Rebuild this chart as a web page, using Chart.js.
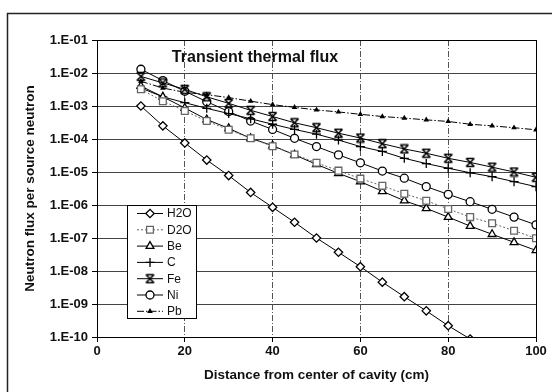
<!DOCTYPE html>
<html>
<head>
<meta charset="utf-8">
<script src="https://cdn.jsdelivr.net/npm/chart.js@4.4.0/dist/chart.umd.min.js"></script>
<style>
  html, body { margin: 0; padding: 0; background: #fff; }
  #wrap { width: 552px; height: 392px; position: relative; }
</style>
</head>
<body>
<div id="wrap"><canvas id="c" width="552" height="392"></canvas></div>
<script>
// Distance from the cavity centre (cm)
const distances = [10, 15, 20, 25, 30, 35, 40, 45, 50, 55, 60, 65, 70, 75, 80, 85, 90, 95, 100];

// Neutron flux per source neutron, by moderator / reflector material
const fluxH2O = [1.0e-3, 2.5e-4, 7.6e-5, 2.3e-5, 7.8e-6, 2.4e-6, 8.5e-7, 3.0e-7, 1.0e-7, 3.7e-8,
                 1.35e-8, 4.6e-9, 1.66e-9, 6.2e-10, 2.2e-10, 8.7e-11];
const fluxD2O = [3.2e-3, 1.4e-3, 7.1e-4, 3.5e-4, 1.9e-4, 1.05e-4, 6.0e-5, 3.4e-5, 1.9e-5, 1.1e-5,
                 6.3e-6, 3.8e-6, 2.2e-6, 1.35e-6, 7.6e-7, 4.3e-7, 2.8e-7, 1.66e-7, 9.8e-8];
const fluxBe  = [4.0e-3, 1.9e-3, 8.7e-4, 3.9e-4, 2.1e-4, 1.05e-4, 6.3e-5, 3.3e-5, 1.7e-5, 9.1e-6,
                 5.1e-6, 2.6e-6, 1.35e-6, 7.9e-7, 4.3e-7, 2.3e-7, 1.3e-7, 7.4e-8, 4.2e-8];
const fluxC   = [3.5e-3, 1.9e-3, 1.26e-3, 8.5e-4, 5.9e-4, 4.1e-4, 2.8e-4, 1.95e-4, 1.4e-4, 9.3e-5,
                 5.9e-5, 4.2e-5, 2.6e-5, 1.8e-5, 1.3e-5, 9.5e-6, 7.2e-6, 5.1e-6, 3.6e-6];
const fluxFe  = [7.9e-3, 5.0e-3, 3.2e-3, 1.9e-3, 1.2e-3, 7.4e-4, 4.8e-4, 3.1e-4, 2.2e-4, 1.5e-4,
                 1.07e-4, 7.2e-5, 5.0e-5, 3.7e-5, 2.6e-5, 1.95e-5, 1.4e-5, 1.0e-5, 6.9e-6];
const fluxNi  = [1.3e-2, 5.9e-3, 2.8e-3, 1.35e-3, 6.8e-4, 3.5e-4, 1.95e-4, 1.05e-4, 5.9e-5, 3.3e-5,
                 1.9e-5, 1.07e-5, 6.5e-6, 3.6e-6, 2.1e-6, 1.26e-6, 7.4e-7, 4.3e-7, 2.5e-7];
const fluxPb  = [5.6e-3, 3.5e-3, 2.6e-3, 2.2e-3, 1.8e-3, 1.4e-3, 1.1e-3, 9.1e-4, 7.6e-4, 6.6e-4,
                 5.6e-4, 4.8e-4, 4.3e-4, 3.8e-4, 3.4e-4, 2.8e-4, 2.5e-4, 2.2e-4, 1.9e-4];

const seriesNames = ['H2O', 'D2O', 'Be', 'C', 'Fe', 'Ni', 'Pb'];

// Axis ticks
const xTickValues = [0, 20, 40, 60, 80, 100];
const yTickValues = [1e-10, 1e-9, 1e-8, 1e-7, 1e-6, 1e-5, 1e-4, 1e-3, 1e-2, 1e-1];
const yTickLabels = ['1.E-10', '1.E-09', '1.E-08', '1.E-07', '1.E-06', '1.E-05', '1.E-04', '1.E-03', '1.E-02', '1.E-01'];

const chartTitle = 'Transient thermal flux';
const xTitle = 'Distance from center of cavity (cm)';
const yTitle = 'Neutron flux per source neutron';

const FONT = "'Liberation Sans', Arial, Helvetica, sans-serif";
const INK = '#111';

// Hourglass-style cross marker used for Fe
function makeFeMarker() {
  const s = 11;
  const cv = document.createElement('canvas');
  cv.width = s; cv.height = s;
  const g = cv.getContext('2d');
  g.strokeStyle = '#000';
  g.lineWidth = 1.6;
  g.beginPath();
  g.moveTo(1.5, 1.5); g.lineTo(9.5, 9.5);
  g.moveTo(9.5, 1.5); g.lineTo(1.5, 9.5);
  g.moveTo(1.5, 1.5); g.lineTo(9.5, 1.5);
  g.moveTo(1.5, 9.5); g.lineTo(9.5, 9.5);
  g.stroke();
  return cv;
}
const feMarker = makeFeMarker();

function pts(values) {
  return values.map((v, i) => ({ x: distances[i], y: v }));
}

const styles = [
  { data: fluxH2O, pointStyle: 'rectRot', radius: 4.2, color: '#000', dash: [] },
  { data: fluxD2O, pointStyle: 'rect', radius: 4.8, color: '#666', dash: [2, 2] },
  { data: fluxBe,  pointStyle: 'triangle', radius: 4.5, color: '#000', dash: [] },
  { data: fluxC,   pointStyle: 'cross', radius: 4.5, color: '#000', dash: [] },
  { data: fluxFe,  pointStyle: feMarker, radius: 5, color: '#000', dash: [] },
  { data: fluxNi,  pointStyle: 'circle', radius: 4, color: '#000', dash: [] },
  { data: fluxPb,  pointStyle: 'triangle', radius: 2, color: '#000', dash: [7, 2, 1.5, 2], filled: true }
];

const datasets = styles.map((s, i) => ({
  label: seriesNames[i],
  data: pts(s.data),
  borderColor: s.color,
  borderWidth: 1,
  borderDash: s.dash,
  pointStyle: s.pointStyle,
  pointRadius: s.radius,
  pointBorderColor: s.color,
  pointBackgroundColor: s.filled ? s.color : '#fff',
  pointBorderWidth: 1.3,
  tension: 0,
  fill: false
}));

// Frame around the whole figure
const framePlugin = {
  id: 'frame',
  beforeDraw(chart) {
    const ctx = chart.ctx;
    ctx.save();
    ctx.fillStyle = '#fff';
    ctx.fillRect(0, 0, chart.width, chart.height);
    ctx.strokeStyle = '#222';
    ctx.lineWidth = 1.5;
    ctx.beginPath();
    ctx.moveTo(7.5, chart.height);
    ctx.lineTo(7.5, 13.5);
    ctx.lineTo(chart.width, 13.5);
    ctx.stroke();
    ctx.restore();
  }
};

// Plot border, title in the plot, and the boxed legend
const overlayPlugin = {
  id: 'overlay',
  afterDatasetsDraw(chart) {
    const ctx = chart.ctx;
    const a = chart.chartArea;
    ctx.save();
    ctx.strokeStyle = '#000';
    ctx.lineWidth = 1;
    ctx.strokeRect(Math.round(a.left) + 0.5, Math.round(a.top) + 0.5,
                   Math.round(a.right - a.left), Math.round(a.bottom - a.top));

    // title
    ctx.fillStyle = INK;
    ctx.font = 'bold 16px ' + FONT;
    ctx.textAlign = 'center';
    ctx.textBaseline = 'middle';
    ctx.fillText(chartTitle, 255, 58);

    // legend
    const box = { x: 127.5, y: 205.5, w: 69, h: 113 };
    ctx.fillStyle = '#fff';
    ctx.fillRect(box.x, box.y, box.w, box.h);
    ctx.strokeStyle = '#000';
    ctx.lineWidth = 1;
    ctx.strokeRect(box.x, box.y, box.w, box.h);

    ctx.font = '12px ' + FONT;
    ctx.textAlign = 'left';
    chart.data.datasets.forEach((ds, i) => {
      const y = 213.5 + i * 16.3;
      ctx.save();
      ctx.strokeStyle = ds.borderColor;
      ctx.lineWidth = 1;
      ctx.setLineDash(ds.borderDash);
      ctx.beginPath();
      ctx.moveTo(137, y);
      ctx.lineTo(163, y);
      ctx.stroke();
      ctx.setLineDash([]);
      ctx.strokeStyle = ds.pointBorderColor;
      ctx.fillStyle = ds.pointBackgroundColor;
      ctx.lineWidth = ds.pointBorderWidth;
      Chart.helpers.drawPoint(ctx, {
        pointStyle: ds.pointStyle,
        radius: ds.pointRadius,
        rotation: 0,
        borderWidth: ds.pointBorderWidth
      }, 150, y);
      ctx.restore();
      ctx.fillStyle = INK;
      ctx.textBaseline = 'middle';
      ctx.fillText(ds.label, 167, y + 0.5);
    });
    ctx.restore();
  }
};

new Chart(document.getElementById('c'), {
  type: 'line',
  data: { datasets },
  options: {
    responsive: false,
    animation: false,
    devicePixelRatio: 1,
    layout: { padding: { left: 0, top: 40, right: 16, bottom: 0 } },
    plugins: {
      legend: { display: false },
      title: { display: false },
      tooltip: { enabled: false }
    },
    scales: {
      x: {
        type: 'linear',
        min: 0,
        max: 100,
        afterBuildTicks(scale) { scale.ticks = xTickValues.map(v => ({ value: v })); },
        afterFit(scale) { scale.height = 55; },
        ticks: {
          color: INK,
          font: { family: FONT, size: 13, weight: 'bold' },
          padding: 2,
          maxRotation: 0
        },
        grid: {
          color: ctx => (ctx.tick && (ctx.tick.value === 0 || ctx.tick.value === 100)) ? 'rgba(0,0,0,0)' : '#555',
          tickColor: '#000',
          borderDash: [6, 2, 1, 2],
          tickLength: 5,
          lineWidth: 1
        },
        border: { color: '#000', width: 1, dash: [6, 2, 1, 2] },
        title: {
          display: true,
          text: xTitle,
          color: INK,
          font: { family: FONT, size: 13.5, weight: 'bold' },
          padding: { top: 0, bottom: 9 }
        }
      },
      y: {
        type: 'logarithmic',
        min: 1e-10,
        max: 1e-1,
        afterBuildTicks(scale) { scale.ticks = yTickValues.map(v => ({ value: v })); },
        afterFit(scale) { scale.width = 97; },
        ticks: {
          color: INK,
          font: { family: FONT, size: 13, weight: 'bold' },
          padding: 4,
          callback(value) {
            const i = yTickValues.findIndex(v => Math.abs(Math.log10(v) - Math.log10(value)) < 1e-6);
            return i >= 0 ? yTickLabels[i] : '';
          }
        },
        grid: {
          color: '#444',
          tickColor: '#000',
          tickLength: 5,
          lineWidth: 1
        },
        border: { color: '#000', width: 1 },
        title: {
          display: true,
          text: yTitle,
          color: INK,
          font: { family: FONT, size: 13.5, weight: 'bold' },
          padding: { top: 22, bottom: 0 }
        }
      }
    }
  },
  plugins: [framePlugin, overlayPlugin]
});
</script>
</body>
</html>
